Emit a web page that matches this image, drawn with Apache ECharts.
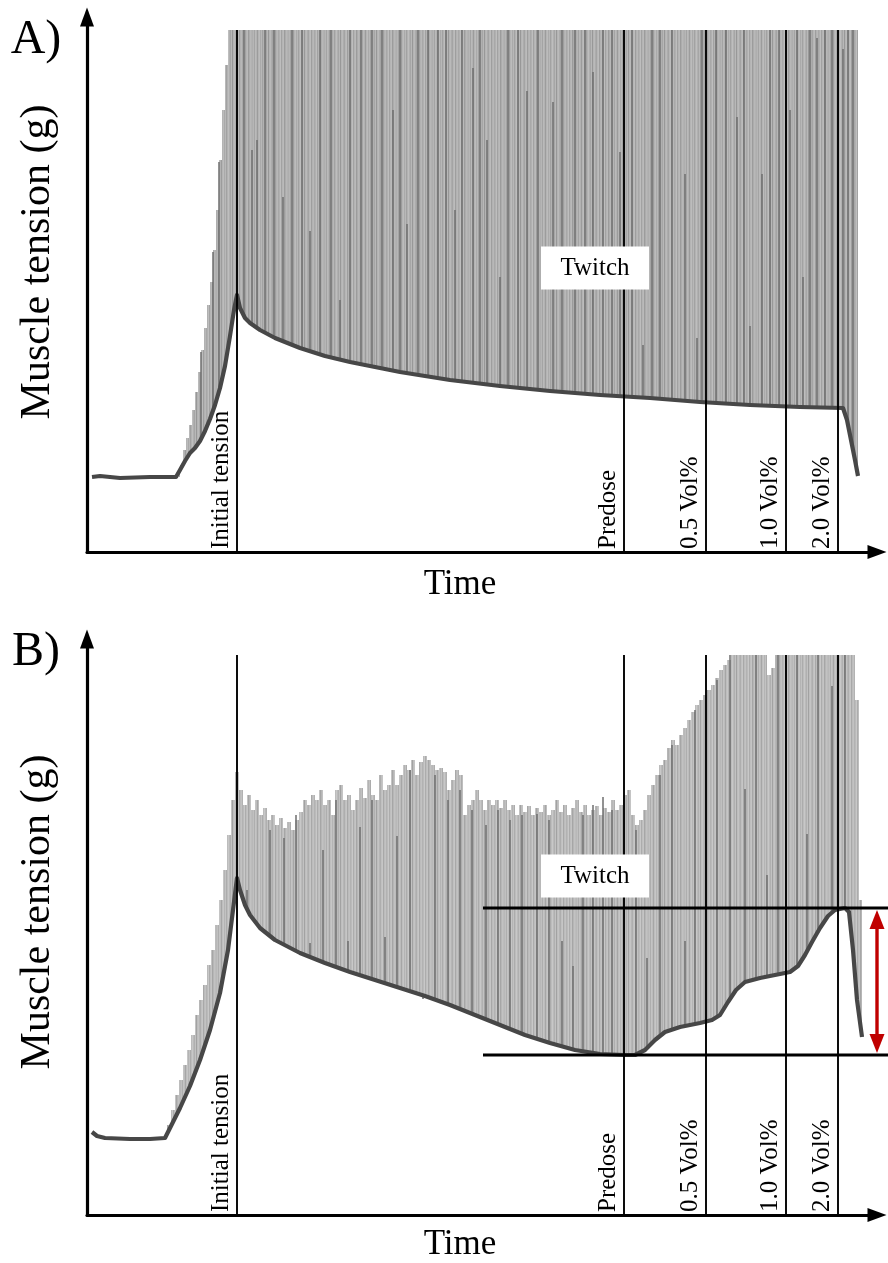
<!DOCTYPE html>
<html>
<head>
<meta charset="utf-8">
<script src="https://cdn.jsdelivr.net/npm/echarts@6/dist/echarts.min.js"></script>
<style>
  html, body { margin: 0; padding: 0; background: #ffffff; }
  #chart { width: 888px; height: 1263px; }
</style>
</head>
<body>
<div id="chart"></div>
<script>
// Time in arbitrary recording units, tension in arbitrary gram units.

// Protocol events (vertical markers), shared by both recordings
const markerLabels = ['Initial tension', 'Predose', '0.5 Vol%', '1.0 Vol%', '2.0 Vol%'];
const markerTimes = [37.5, 134.25, 154.75, 174.75, 187.75];

// ---------- Recording A ----------
// resting (baseline) tension trace
const baselineA = [
  [1.25, 1.50], [3.25, 1.52], [8.25, 1.48], [15.75, 1.50], [22.25, 1.50], [23.25, 1.64],
  [24.5, 1.82], [25.75, 1.98], [27.0, 2.08], [28.25, 2.22], [29.5, 2.42], [30.75, 2.66],
  [32.0, 2.94], [33.25, 3.28], [34.5, 3.72], [35.75, 4.32], [36.75, 4.84], [37.5, 5.14],
  [38.25, 4.88], [39.5, 4.68], [40.75, 4.58], [43.25, 4.44], [47.0, 4.28], [53.25, 4.08],
  [59.5, 3.92], [65.75, 3.80], [72.0, 3.70], [78.25, 3.60], [90.75, 3.44], [103.25, 3.32],
  [115.75, 3.22], [128.25, 3.14], [140.75, 3.08], [153.25, 3.00], [165.75, 2.94],
  [178.25, 2.90], [189.0, 2.88], [190.0, 2.64], [191.0, 2.24], [192.0, 1.84], [192.75, 1.52]
];
// twitch peak envelope (recorder saturates at 10.44)
const twitchPeaksA = [
  [23.0, 1.50], [23.25, 1.74], [24.0, 2.04], [24.75, 2.28], [25.5, 2.54], [26.25, 2.84],
  [27.0, 3.20], [27.75, 3.60], [28.5, 4.04], [29.25, 4.48], [30.0, 4.94], [30.75, 5.40],
  [31.5, 6.04], [32.25, 6.84], [33.0, 7.84], [33.75, 8.84], [34.5, 9.74], [35.25, 10.44],
  [192.75, 10.44], [192.75, 1.52]
];
// individual twitches that print darker: [time, peak]
const darkTwitchesA = [
  [28.5, 4.0], [31.5, 6.0], [33.0, 7.8],
  [39.25, 10.44], [41.25, 8.04], [42.5, 8.24], [44.5, 10.44], [46.75, 10.44], [49.0, 7.10],
  [51.25, 10.44], [53.75, 10.44], [55.75, 6.42], [58.25, 10.44], [61.0, 10.44], [63.25, 5.04],
  [65.75, 10.44], [68.5, 10.44], [71.25, 10.44], [73.75, 10.44], [76.5, 8.84], [78.25, 10.44],
  [80.0, 6.56], [82.75, 10.44], [85.25, 10.44], [87.75, 10.44], [89.75, 10.44], [92.0, 6.84],
  [93.75, 10.44], [96.5, 9.68], [98.25, 10.44], [100.0, 8.24], [103.25, 5.50], [105.25, 10.44],
  [107.75, 10.44], [110.0, 9.22], [112.75, 10.44], [116.5, 9.00], [118.75, 10.44], [122.0, 10.44],
  [124.5, 10.44], [126.5, 9.60], [129.0, 10.44], [131.25, 10.44], [133.25, 8.00], [136.25, 10.44],
  [139.0, 4.14], [141.25, 10.44], [143.25, 10.44], [146.25, 10.44], [149.5, 7.56], [152.5, 4.28],
  [153.75, 10.44], [157.25, 10.44], [159.75, 10.44], [162.5, 8.70], [164.25, 10.44], [165.75, 4.52],
  [168.75, 7.56], [170.75, 10.44], [173.0, 10.44], [175.75, 8.84], [177.5, 10.44], [179.0, 5.50],
  [180.75, 10.44], [182.5, 10.28], [184.5, 10.44], [186.25, 10.44], [189.0, 10.06], [190.25, 10.44],
  [191.5, 10.44]
];

// ---------- Recording B ----------
const baselineB = [
  [1.25, 1.66], [2.5, 1.58], [4.5, 1.54], [10.75, 1.52], [15.75, 1.52], [19.5, 1.54],
  [20.75, 1.74], [22.0, 1.94], [23.25, 2.14], [25.75, 2.58], [28.25, 3.10], [30.75, 3.70],
  [33.25, 4.44], [35.25, 5.30], [36.5, 6.10], [37.5, 6.74], [38.25, 6.50], [39.5, 6.20],
  [40.75, 6.00], [43.25, 5.74], [47.0, 5.50], [53.25, 5.24], [59.5, 5.04], [65.75, 4.86],
  [72.0, 4.70], [78.25, 4.54], [84.5, 4.38], [90.75, 4.20], [97.0, 4.00], [103.25, 3.80],
  [109.5, 3.60], [115.75, 3.44], [122.0, 3.30], [128.25, 3.22], [134.25, 3.20], [137.0, 3.20],
  [139.5, 3.30], [142.0, 3.50], [144.5, 3.66], [148.25, 3.76], [153.25, 3.84], [156.25, 3.90],
  [158.25, 4.00], [160.25, 4.26], [162.25, 4.50], [164.5, 4.66], [168.25, 4.74], [172.0, 4.80],
  [175.75, 4.86], [177.75, 4.98], [179.5, 5.20], [181.25, 5.46], [183.25, 5.74], [185.25, 5.98],
  [187.0, 6.10], [189.5, 6.14], [190.5, 6.06], [191.5, 5.30], [192.5, 4.30], [193.75, 3.56]
];
const twitchPeaksB = [
  [19, 1.54], [20, 1.80], [21, 2.10], [22, 2.40], [23, 2.70], [24, 3.00], [25, 3.30], [26, 3.60],
  [27, 4.00], [28, 4.30], [29, 4.60], [30, 5.00], [31, 5.30], [32, 5.80], [33, 6.30], [34, 6.90],
  [35, 7.60], [36, 8.30], [37, 8.86], [38, 8.50], [39, 8.20], [40, 8.40], [41, 8.10], [42, 8.30],
  [43, 8.00], [44, 8.14], [45, 7.90], [46, 8.00], [47, 7.80], [48, 7.94], [49, 7.74], [50, 7.86],
  [51, 7.70], [52, 7.90], [53, 8.06], [54, 8.30], [55, 8.20], [56, 8.40], [57, 8.30], [58, 8.50],
  [59, 8.20], [60, 8.30], [61, 8.00], [62, 8.50], [63, 8.60], [64, 8.30], [65, 8.40], [66, 8.10],
  [67, 8.30], [68, 8.54], [69, 8.34], [70, 8.70], [71, 8.40], [72, 8.30], [73, 8.80], [74, 8.50],
  [75, 8.60], [76, 8.90], [77, 8.60], [78, 8.80], [79, 9.00], [80, 8.90], [81, 9.10], [82, 8.80],
  [83, 9.06], [84, 9.18], [85, 9.10], [86, 9.00], [87, 8.90], [88, 8.94], [89, 8.86], [90, 8.50],
  [91, 8.70], [92, 8.90], [93, 8.80], [94, 8.00], [95, 8.20], [96, 8.30], [97, 8.50], [98, 8.30],
  [99, 8.10], [100, 8.30], [101, 8.20], [102, 8.30], [103, 8.14], [104, 8.30], [105, 8.10], [106, 8.20],
  [107, 8.00], [108, 8.20], [109, 8.06], [110, 8.18], [111, 8.00], [112, 8.14], [113, 8.06], [114, 8.20],
  [115, 8.00], [116, 8.10], [117, 8.30], [118, 8.06], [119, 8.20], [120, 8.00], [121, 8.14], [122, 8.30],
  [123, 8.06], [124, 8.20], [125, 8.00], [126, 8.10], [127, 8.18], [128, 8.00], [129, 8.14], [130, 8.06],
  [131, 8.30], [132, 8.10], [133, 8.20], [134, 8.40], [135, 8.50], [136, 8.00], [137, 7.80], [138, 7.90],
  [139, 8.10], [140, 8.40], [141, 8.60], [142, 8.80], [143, 9.00], [144, 9.10], [145, 9.34], [146, 9.50],
  [147, 9.40], [148, 9.60], [149, 9.74], [150, 9.90], [151, 10.06], [152, 10.20], [153, 10.30], [154, 10.40],
  [155, 10.50], [156, 10.60], [157, 10.74], [158, 10.90], [159, 11.00], [160, 11.10], [161, 11.20], [162, 11.20],
  [163, 11.20], [164, 11.20], [165, 11.20], [166, 11.20], [167, 11.20], [168, 11.20], [169, 11.20], [170, 10.80],
  [171, 10.94], [172, 11.20], [173, 11.20], [174, 11.20], [175, 11.20], [176, 11.20], [177, 11.20], [178, 11.20],
  [179, 11.20], [180, 11.20], [181, 11.20], [182, 11.20], [183, 11.20], [184, 11.20], [185, 11.20], [186, 11.20],
  [187, 11.20], [188, 11.20], [189, 11.20], [190, 11.20], [191, 11.20], [192, 10.30], [193, 6.30], [193.75, 3.56]
];
const darkTwitchesB = [
  [40.0, 6.50], [45.75, 7.70], [49.25, 7.54], [52.25, 8.00], [55.75, 5.44], [59.0, 7.30],
  [62.25, 8.30], [65.25, 5.48], [68.25, 7.76], [71.25, 8.30], [74.5, 5.56], [77.5, 7.58],
  [80.75, 8.90], [84.0, 4.32], [87.0, 8.80], [90.25, 8.30], [93.25, 8.50], [96.25, 8.10],
  [99.75, 7.80], [102.75, 8.10], [105.75, 7.90], [108.75, 8.00], [112.5, 8.02], [115.5, 7.90],
  [118.75, 5.48], [121.5, 4.98], [124.0, 8.00], [126.5, 8.20], [129.0, 8.36], [131.25, 8.10],
  [137.25, 7.70], [140.0, 5.14], [143.25, 8.80], [146.25, 9.40], [149.5, 5.48], [152.0, 10.10],
  [157.5, 10.70], [160.75, 11.20], [164.5, 8.52], [167.25, 11.20], [170.0, 6.80], [172.75, 11.20],
  [177.5, 11.20], [180.0, 7.62], [182.75, 11.20], [186.25, 10.58], [189.5, 11.20]
];
// contracture read-out: predose baseline vs. baseline at 2.0 Vol%
const predoseLevelB = 3.20;
const peakLevelB = 6.14;

// ---------- layout ----------
const SERIF = '"Liberation Serif", "Times New Roman", Times, serif';
const X_MAX = 197.5;
const Y_MAX_A = 10.7, Y_MAX_B = 11.52;
const CEIL_A = 10.44, CEIL_B = 11.2;
const twitchLabelPosA = [127, 5.68];
const twitchLabelPosB = [127, 6.78];
const levelSpanB = [99, 200.25];
const arrowTimeB = 197.5;

// grey striped fill used for the dense twitch trace
const STRIPES = [178,186,168,190,182,160,184,192,174,188,166,182,194,180,170,188,156,184,
                 190,176,168,186,192,162,182,188,172,180,194,166,184,190,160,176,188,182];
function stripePattern(shift) {
  const c = document.createElement('canvas');
  c.width = STRIPES.length; c.height = 2;
  const g = c.getContext('2d');
  STRIPES.forEach(function (v, i) {
    const k = Math.min(255, v + shift);
    g.fillStyle = 'rgb(' + k + ',' + k + ',' + k + ')';
    g.fillRect(i, 0, 1, 2);
  });
  return { image: c, repeat: 'repeat' };
}
const fillA = stripePattern(-4);
const fillB = stripePattern(6);

// baseline level at time t along a trace
function baseAt(base, t) {
  if (t <= base[0][0]) return base[0][1];
  for (let k = 1; k < base.length; k++) {
    if (t <= base[k][0]) {
      const a = base[k - 1], b = base[k];
      return b[0] === a[0] ? b[1] : a[1] + (b[1] - a[1]) * (t - a[0]) / (b[0] - a[0]);
    }
  }
  return base[base.length - 1][1];
}

// twitch columns between baseline and peak
function twitchFill(peaks, base, fill) {
  return function (params, api) {
    const i = params.dataIndex;
    if (i >= peaks.length - 1) return null;
    const t0 = api.value(0), top = api.value(1), t1 = peaks[i + 1][0];
    if (t1 <= t0) return null;
    const pts = [api.coord([t0, top]), api.coord([t1, top]), api.coord([t1, baseAt(base, t1)])];
    for (let k = base.length - 1; k >= 0; k--) {
      if (base[k][0] > t0 && base[k][0] < t1) pts.push(api.coord(base[k]));
    }
    pts.push(api.coord([t0, baseAt(base, t0)]));
    return { type: 'polygon', shape: { points: pts }, style: { fill: fill, stroke: null } };
  };
}

function darkTwitch(base, color) {
  return function (params, api) {
    const t = api.value(0);
    const p0 = api.coord([t, baseAt(base, t)]);
    const p1 = api.coord([t, api.value(1)]);
    return { type: 'line', shape: { x1: p0[0], y1: p0[1], x2: p1[0], y2: p1[1] },
             style: { stroke: color, lineWidth: 1.5 } };
  };
}

function markerItem(ceil) {
  return function (params, api) {
    const t = api.value(0);
    const b = api.coord([t, 0]);
    const top = api.coord([t, ceil]);
    return {
      type: 'group',
      children: [
        { type: 'line', shape: { x1: b[0], y1: b[1], x2: top[0], y2: top[1] },
          style: { stroke: '#000', lineWidth: 1.9 } },
        { type: 'text', x: b[0] - 3, y: b[1] - 3, rotation: Math.PI / 2,
          style: { text: markerLabels[params.dataIndex], font: '25px ' + SERIF, fill: '#000',
                   align: 'left', verticalAlign: 'bottom' } }
      ]
    };
  };
}

function twitchLabel(params, api) {
  const c = api.coord([api.value(0), api.value(1)]);
  return {
    type: 'group',
    children: [
      { type: 'rect', shape: { x: c[0] - 54, y: c[1] - 21.5, width: 108, height: 43 },
        style: { fill: '#fff' } },
      { type: 'text', x: c[0], y: c[1],
        style: { text: 'Twitch', font: '25px ' + SERIF, fill: '#000', align: 'center', verticalAlign: 'middle' } }
    ]
  };
}

function contractureLevels(params, api) {
  const lo = api.coord([levelSpanB[0], predoseLevelB]);
  const loEnd = api.coord([levelSpanB[1], predoseLevelB]);
  const hi = api.coord([levelSpanB[0], peakLevelB]);
  const hiEnd = api.coord([levelSpanB[1], peakLevelB]);
  const aTop = api.coord([arrowTimeB, peakLevelB]);
  const aBot = api.coord([arrowTimeB, predoseLevelB]);
  const x = aTop[0], yT = aTop[1] + 2, yB = aBot[1] - 2, head = 19, hw = 7.5;
  const red = '#c00000';
  return {
    type: 'group',
    children: [
      { type: 'line', shape: { x1: hi[0], y1: hi[1], x2: hiEnd[0], y2: hiEnd[1] }, style: { stroke: '#000', lineWidth: 2.8 } },
      { type: 'line', shape: { x1: lo[0], y1: lo[1], x2: loEnd[0], y2: loEnd[1] }, style: { stroke: '#000', lineWidth: 2.8 } },
      { type: 'line', shape: { x1: x, y1: yT + head - 2, x2: x, y2: yB - head + 2 }, style: { stroke: red, lineWidth: 3.4 } },
      { type: 'polygon', shape: { points: [[x, yT], [x + hw, yT + head], [x - hw, yT + head]] }, style: { fill: red } },
      { type: 'polygon', shape: { points: [[x, yB], [x + hw, yB - head], [x - hw, yB - head]] }, style: { fill: red } }
    ]
  };
}

function axisX(gridIndex) {
  return {
    type: 'value', gridIndex: gridIndex, min: 0, max: X_MAX,
    axisLine: { show: true, onZero: false, symbol: ['none', 'triangle'], symbolSize: [14, 19],
                lineStyle: { color: '#000', width: 3.2 } },
    axisTick: { show: false }, axisLabel: { show: false }, splitLine: { show: false }
  };
}
function axisY(gridIndex, max) {
  return {
    type: 'value', gridIndex: gridIndex, min: 0, max: max,
    axisLine: { show: true, onZero: false, symbol: ['none', 'triangle'], symbolSize: [14, 19],
                lineStyle: { color: '#000', width: 3.2 } },
    axisTick: { show: false }, axisLabel: { show: false }, splitLine: { show: false }
  };
}

function panelSeries(idx, base, peaks, dark, fill, ceil, labelPos) {
  return [
    { type: 'custom', name: 'Twitch', xAxisIndex: idx, yAxisIndex: idx, z: 1, silent: true,
      data: peaks, renderItem: twitchFill(peaks, base, fill) },
    { type: 'custom', name: 'Twitch (dark)', xAxisIndex: idx, yAxisIndex: idx, z: 2, silent: true,
      data: dark, renderItem: darkTwitch(base, '#6e6e6e') },
    { type: 'line', name: 'Resting tension', xAxisIndex: idx, yAxisIndex: idx, z: 3, silent: true,
      data: base, showSymbol: false, symbol: 'none',
      lineStyle: { color: '#474747', width: 4.2, join: 'round' } },
    { type: 'custom', name: 'Events', xAxisIndex: idx, yAxisIndex: idx, z: 4, silent: true,
      data: markerTimes.map(function (t) { return [t, 0]; }), renderItem: markerItem(ceil) },
    { type: 'custom', name: 'Twitch label', xAxisIndex: idx, yAxisIndex: idx, z: 6, silent: true,
      data: [labelPos], renderItem: twitchLabel }
  ];
}

const series = []
  .concat(panelSeries(0, baselineA, twitchPeaksA, darkTwitchesA, fillA, CEIL_A, twitchLabelPosA))
  .concat(panelSeries(1, baselineB, twitchPeaksB, darkTwitchesB, fillB, CEIL_B, twitchLabelPosB))
  .concat([{ type: 'custom', name: 'Contracture', xAxisIndex: 1, yAxisIndex: 1, z: 5, silent: true,
             data: [[arrowTimeB, predoseLevelB]], renderItem: contractureLevels }]);

function titleText(x, y, text, size, rot) {
  return { type: 'text', x: x, y: y, rotation: rot || 0,
           style: { text: text, font: size + 'px ' + SERIF, fill: '#000', align: 'center', verticalAlign: 'middle' } };
}

const option = {
  backgroundColor: '#fff',
  animation: false,
  grid: [
    { left: 87, top: 17, width: 790, height: 535 },
    { left: 87, top: 639, width: 790, height: 576 }
  ],
  xAxis: [axisX(0), axisX(1)],
  yAxis: [axisY(0, Y_MAX_A), axisY(1, Y_MAX_B)],
  graphic: [
    titleText(36, 40, 'A)', 48),
    titleText(36, 652, 'B)', 48),
    titleText(38, 262, 'Muscle tension (g)', 42, Math.PI / 2),
    titleText(38, 912, 'Muscle tension (g)', 42, Math.PI / 2),
    titleText(460, 585, 'Time', 35),
    titleText(460, 1245, 'Time', 35)
  ],
  series: series
};

const chart = echarts.init(document.getElementById('chart'), null, { renderer: 'canvas' });
chart.setOption(option);
</script>
</body>
</html>
